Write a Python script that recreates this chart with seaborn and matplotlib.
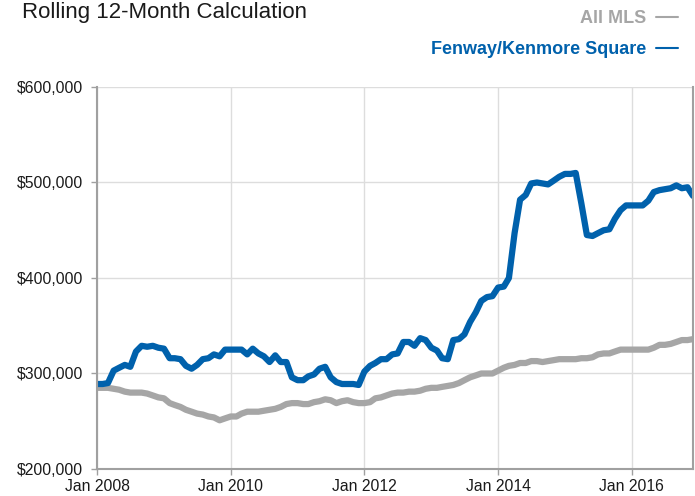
import pandas as pd
import matplotlib
matplotlib.use("Agg")
import matplotlib.pyplot as plt
import matplotlib.dates as mdates
import matplotlib.ticker as mticker
import seaborn as sns

# monthly rolling 12-month median sale price, Jan 2008 - Dec 2016
months = pd.date_range("2008-01-01", periods=108, freq="MS")

all_mls = [
    285, 285, 285, 284, 283, 281, 280, 280, 280, 279, 277, 275,
    274, 269, 267, 265, 262, 260, 258, 257, 255, 254, 251, 253,
    255, 255, 258, 260, 260, 260, 261, 262, 263, 265, 268, 269,
    269, 268, 268, 270, 271, 273, 272, 269, 271, 272, 270, 269,
    269, 270, 274, 275, 277, 279, 280, 280, 281, 281, 282, 284,
    285, 285, 286, 287, 288, 290, 293, 296, 298, 300, 300, 300,
    303, 306, 308, 309, 311, 311, 313, 313, 312, 313, 314, 315,
    315, 315, 315, 316, 316, 317, 320, 321, 321, 323, 325, 325,
    325, 325, 325, 325, 327, 330, 330, 331, 333, 335, 335, 336,
]

fenway = [
    289, 289, 290, 303, 306, 309, 307, 323, 329, 328, 329, 327,
    326, 316, 316, 315, 308, 305, 309, 315, 316, 320, 318, 325,
    325, 325, 325, 320, 326, 321, 318, 312, 319, 312, 312, 296,
    293, 293, 297, 299, 305, 307, 296, 291, 289, 289, 289, 288,
    302, 308, 311, 315, 315, 320, 321, 333, 333, 329, 337, 335,
    327, 324, 316, 315, 335, 336, 341, 354, 364, 376, 380, 381,
    390, 391, 400, 447, 482, 487, 499, 500, 499, 498, 502, 506,
    509, 509, 510, 478, 445, 444, 447, 450, 451, 462, 471, 476,
    476, 476, 476, 481, 490, 492, 493, 494, 497, 494, 495, 486,
]

series_names = ["All MLS", "Fenway/Kenmore Square"]
colors = {"All MLS": "#A6A6A6", "Fenway/Kenmore Square": "#0061AC"}

df = pd.concat([
    pd.DataFrame({"month": months, "price": [v * 1000 for v in all_mls], "area": "All MLS"}),
    pd.DataFrame({"month": months, "price": [v * 1000 for v in fenway], "area": "Fenway/Kenmore Square"}),
])

sns.set_theme(style="white")
plt.rcParams["font.family"] = ["Liberation Sans", "DejaVu Sans"]

fig = plt.figure(figsize=(6.95, 4.96), dpi=100)
ax = fig.add_axes([97 / 695, 1 - 469 / 496, (693 - 97) / 695, (469 - 87) / 496])

sns.lineplot(data=df, x="month", y="price", hue="area", hue_order=series_names,
             palette=colors, linewidth=4.5, ax=ax)
ax.set_xlabel("")
ax.set_ylabel("")

ax.set_xlim(months[0], months[-1])
ax.set_ylim(200000, 600000)
ax.yaxis.set_major_locator(mticker.MultipleLocator(100000))
ax.yaxis.set_major_formatter(mticker.StrMethodFormatter("${x:,.0f}"))
ax.xaxis.set_major_locator(mdates.YearLocator(2, month=1, day=1))
ax.xaxis.set_major_formatter(mdates.DateFormatter("%b %Y"))

ax.grid(True, color="#DDDDDD", linewidth=1)
ax.set_axisbelow(True)
for side in ["left", "bottom", "right"]:
    ax.spines[side].set_color("#A0A0A0")
    ax.spines[side].set_linewidth(1.5)
ax.spines["top"].set_visible(False)
ax.tick_params(axis="both", which="major", length=4, width=1, color="#A0A0A0",
               labelsize=11.3, labelcolor="#1a1a1a", bottom=True, left=True)
ax.tick_params(axis="y", pad=6)
ax.tick_params(axis="x", pad=3.5)

leg = ax.legend(loc="upper right", bbox_to_anchor=(678 / 695, 1 - 10 / 496),
                bbox_transform=fig.transFigure, frameon=False, markerfirst=False,
                handlelength=1.2, handletextpad=0.55, labelspacing=0.8,
                borderaxespad=0, borderpad=0, labelcolor="linecolor",
                prop={"weight": "bold", "size": 13})
for h in leg.legend_handles:
    h.set_linewidth(1.5)

fig.text(22 / 695, 1 - 18 / 496, "Rolling 12-Month Calculation",
         fontsize=16, color="#1a1a1a", ha="left", va="baseline")

fig.savefig("out.png", dpi=100)
